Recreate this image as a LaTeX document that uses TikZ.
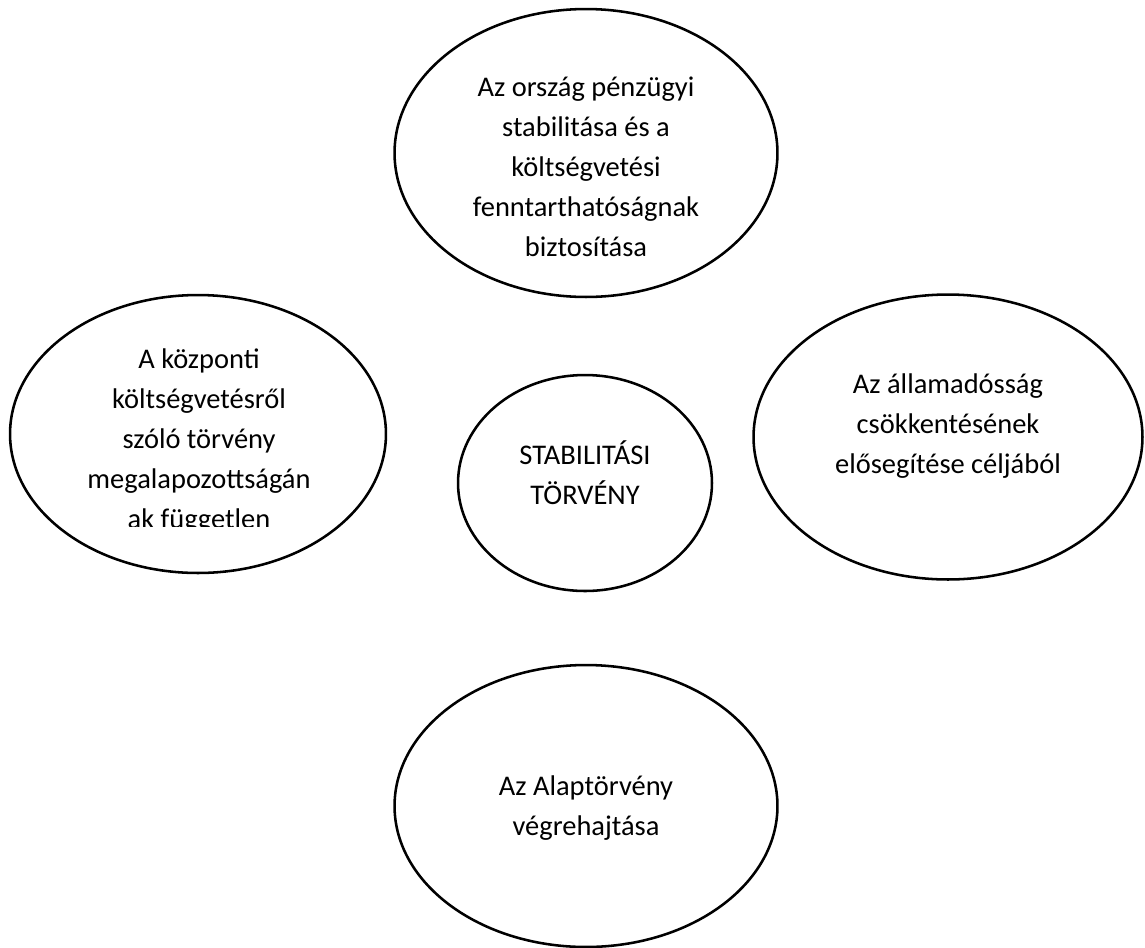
\documentclass[tikz,border=0pt]{standalone}
\usepackage{fontspec}
\setmainfont{Carlito}
\usetikzlibrary{shapes}

\begin{document}
\begin{tikzpicture}[x=0.02cm, y=-0.02cm,
        bubble/.style={ellipse, draw, line width=1.45pt, inner sep=0pt},
        txt/.style={align=center, inner sep=0pt, font=\fontsize{16.2}{22.8}\selectfont}]
        \useasboundingbox (0,0) rectangle (1145,947);

        % Outer ellipses
        \node[bubble, minimum width=7.66cm, minimum height=5.76cm] (cel) at (586,153) {};
        \node[bubble, minimum width=7.52cm, minimum height=5.56cm] (kozp) at (198,434) {};
        \node[bubble, minimum width=7.78cm, minimum height=5.7cm] (adossag) at (948,437) {};
        \node[bubble, minimum width=7.66cm, minimum height=5.64cm] (alap) at (586,806) {};

        % Inner ellipse
        \node[bubble, minimum width=5.08cm, minimum height=4.32cm] (stab) at (585,483) {};

        % Texts
        \node[txt] (celtext) at (586,167) {Az ország pénzügyi\\stabilitása és a\\költségvetési\\fenntarthatóságnak\\biztosítása};
        \node[txt] (adossagtext) at (948,426) {Az államadósság\\csökkentésének\\elősegítése céljából};
        \node[txt] (alaptext) at (586,808) {Az Alaptörvény\\végrehajtása};
        \node[txt] (stabtext) at (585,473) {STABILITÁSI\\TÖRVÉNY};

        % Cut off text
        \begin{scope}
            \clip (0,0) rectangle (1145,526);
            \node[txt] (kozptext) at (199,441) {A központi\\költségvetésről\\szóló törvény\\megalapozottságán\\ak független};
        \end{scope}
    \end{tikzpicture}
\end{document}
